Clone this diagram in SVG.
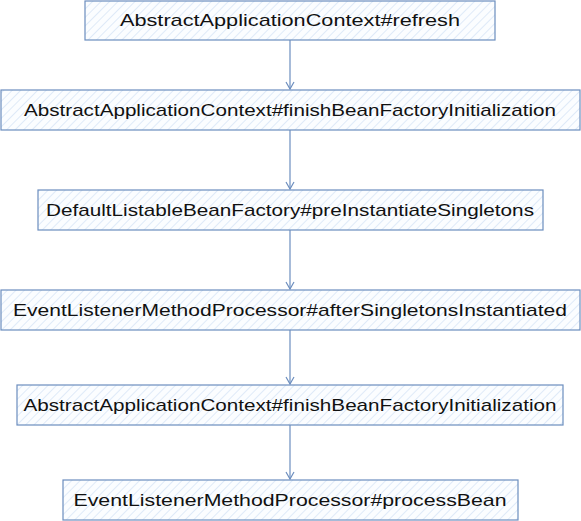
<svg xmlns="http://www.w3.org/2000/svg" width="581" height="521" viewBox="0 0 581 521">
<style>
.box{fill:url(#hatch);stroke:#6c8ebf;stroke-width:1.2}
.lbl{font-family:"Liberation Sans","DejaVu Sans",sans-serif;font-size:17px;fill:#111;text-anchor:middle}
.conn{stroke:#6c8ebf;stroke-width:1.2;fill:none}
</style>
<defs>
<pattern id="hatch" patternUnits="userSpaceOnUse" width="6" height="6" patternTransform="rotate(45)">
<rect width="6" height="6" fill="#fbfdff"/>
<line x1="0" y1="0" x2="0" y2="6" stroke="#d6e4f6" stroke-width="1.5"/>
</pattern>
<marker id="arr" markerWidth="10" markerHeight="10" refX="8" refY="5" orient="auto" markerUnits="userSpaceOnUse">
<path d="M1,1 L8,5 L1,9" fill="none" stroke="#6c8ebf" stroke-width="1.2"/>
</marker>
</defs>
<g id="connectors">
<path class="conn" d="M290,40 L290,89" marker-end="url(#arr)"/>
<path class="conn" d="M290,130 L290,189" marker-end="url(#arr)"/>
<path class="conn" d="M290,230 L290,289" marker-end="url(#arr)"/>
<path class="conn" d="M290,330 L290,384" marker-end="url(#arr)"/>
<path class="conn" d="M290,425 L290,479" marker-end="url(#arr)"/>
</g>
<g id="n1"><rect class="box" x="85" y="1" width="410" height="39"/><text class="lbl" x="290" y="26" textLength="340" lengthAdjust="spacingAndGlyphs">AbstractApplicationContext#refresh</text></g>
<g id="n2"><rect class="box" x="1" y="90" width="579" height="40"/><text class="lbl" x="290" y="116" textLength="532" lengthAdjust="spacingAndGlyphs">AbstractApplicationContext#finishBeanFactoryInitialization</text></g>
<g id="n3"><rect class="box" x="38" y="190" width="505" height="40"/><text class="lbl" x="290" y="216" textLength="488" lengthAdjust="spacingAndGlyphs">DefaultListableBeanFactory#preInstantiateSingletons</text></g>
<g id="n4"><rect class="box" x="1" y="290" width="579" height="40"/><text class="lbl" x="290" y="316" textLength="554" lengthAdjust="spacingAndGlyphs">EventListenerMethodProcessor#afterSingletonsInstantiated</text></g>
<g id="n5"><rect class="box" x="17" y="385" width="546" height="40"/><text class="lbl" x="290" y="411" textLength="533" lengthAdjust="spacingAndGlyphs">AbstractApplicationContext#finishBeanFactoryInitialization</text></g>
<g id="n6"><rect class="box" x="63" y="480" width="455" height="40"/><text class="lbl" x="290" y="506" textLength="433" lengthAdjust="spacingAndGlyphs">EventListenerMethodProcessor#processBean</text></g>
</svg>
